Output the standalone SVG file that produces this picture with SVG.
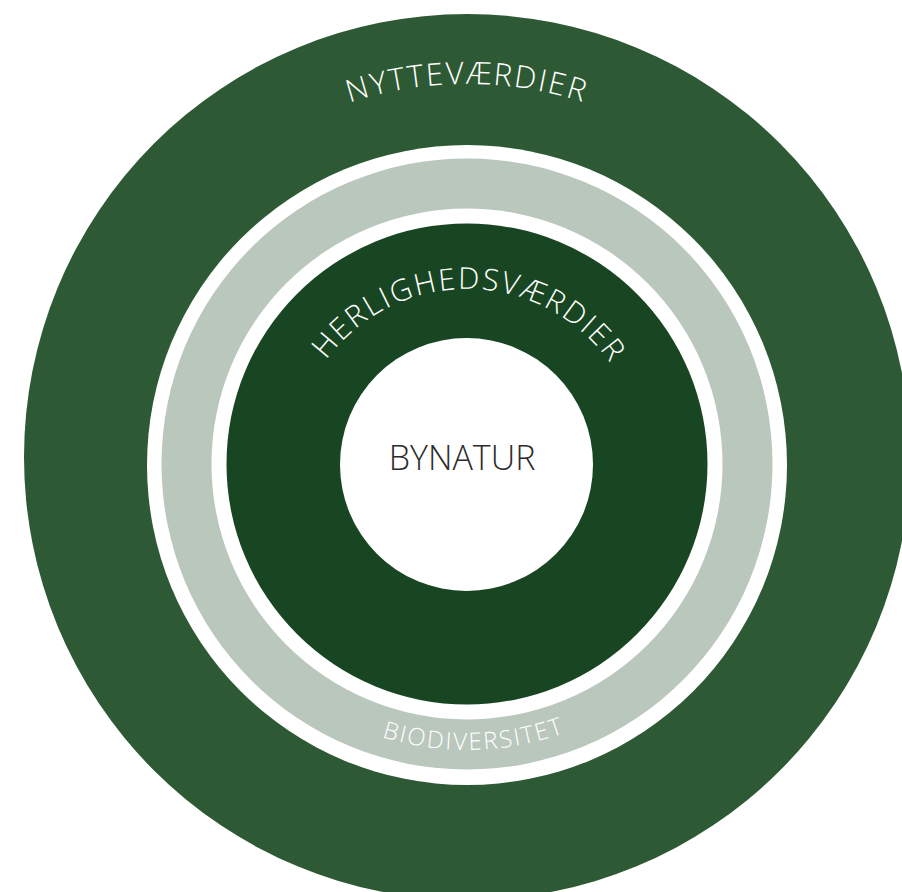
<svg xmlns="http://www.w3.org/2000/svg" xmlns:xlink="http://www.w3.org/1999/xlink" width="902" height="892" viewBox="0 0 902 892">
  <style>
    .lbl { font-family: "Open Sans", "Liberation Sans", sans-serif; font-weight: 300; fill: #ffffff; }
    .center { font-family: "Open Sans", "Liberation Sans", sans-serif; font-weight: 300; fill: #2b2b2b; }
  </style>
  <defs>
    <path id="arcNytte" d="M 87 464 A 380 380 0 0 1 847 464"/>
    <path id="arcHerlig" d="M 292 464 A 175 175 0 0 1 642 464"/>
    <path id="arcBio" d="M 181 464 A 286 286 0 0 0 753 464"/>
  </defs>
  <rect width="902" height="892" fill="#ffffff"/>
  <g id="nyttevaerdier">
    <circle cx="467" cy="457" r="443" fill="#2d5a34"/>
    <circle cx="467" cy="465" r="320" fill="#ffffff"/>
    <text class="lbl" font-size="31" letter-spacing="2"><textPath href="#arcNytte" xlink:href="#arcNytte" startOffset="50%" text-anchor="middle">NYTTEVÆRDIER</textPath></text>
  </g>
  <g id="biodiversitet">
    <circle cx="467" cy="464" r="305.5" fill="#b9c7bd"/>
    <circle cx="467" cy="464" r="255.5" fill="#ffffff"/>
    <text class="lbl" font-size="24" letter-spacing="2"><textPath href="#arcBio" xlink:href="#arcBio" startOffset="50.8%" text-anchor="middle">BIODIVERSITET</textPath></text>
  </g>
  <g id="herlighedsvaerdier">
    <circle cx="467" cy="464" r="240.5" fill="#194622"/>
    <text class="lbl" font-size="30" letter-spacing="2"><textPath href="#arcHerlig" xlink:href="#arcHerlig" startOffset="50.5%" text-anchor="middle">HERLIGHEDSVÆRDIER</textPath></text>
  </g>
  <g id="bynatur">
    <circle cx="466.5" cy="464.5" r="126.5" fill="#ffffff"/>
    <text class="center" x="462" y="470" font-size="34" text-anchor="middle">BYNATUR</text>
  </g>
</svg>
